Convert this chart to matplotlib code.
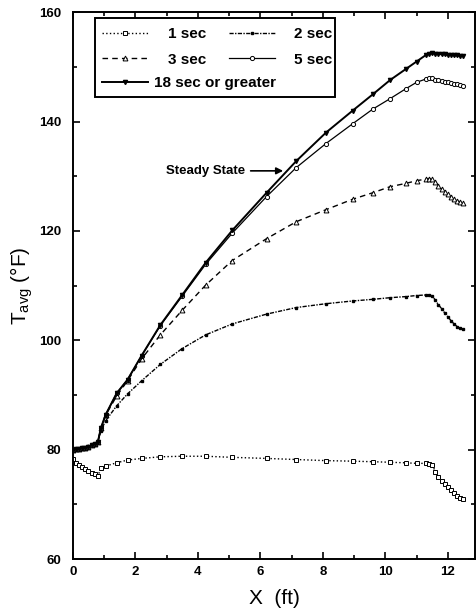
import numpy as np
import matplotlib
matplotlib.use("Agg")
from matplotlib import pyplot as plt
from matplotlib.ticker import MultipleLocator
from matplotlib.patches import Rectangle

plt.rcParams['font.family'] = ['Liberation Sans', 'DejaVu Sans']
plt.rcParams['mathtext.fontset'] = 'custom'
plt.rcParams['mathtext.rm'] = 'Liberation Sans'

# x positions (ft) shared by all series
x = [0, 0.1, 0.2, 0.3, 0.4, 0.5, 0.6, 0.7, 0.8, 0.9, 1.05, 1.4, 1.75, 2.2, 2.8,
     3.5, 4.25, 5.1, 6.2, 7.15, 8.1, 8.95, 9.6, 10.15, 10.65, 11.0, 11.3, 11.4,
     11.5, 11.6, 11.7, 11.8, 11.9, 12.0, 12.1, 12.2, 12.3, 12.4, 12.5]

t1 = [78.3, 77.6, 77.2, 76.8, 76.4, 76.1, 75.8, 75.5, 75.2, 76.6, 77.0, 77.6, 78.1,
      78.4, 78.7, 78.8, 78.8, 78.6, 78.4, 78.2, 78.0, 77.9, 77.8, 77.7, 77.6, 77.5,
      77.5, 77.4, 77.2, 76.0, 75.0, 74.3, 73.7, 73.2, 72.6, 72.0, 71.5, 71.2, 71.0]

t2 = [80.0, 80.1, 80.2, 80.3, 80.4, 80.6, 80.8, 81.1, 81.4, 83.5, 85.3, 88.0, 90.2,
      92.6, 95.6, 98.5, 101.0, 103.0, 104.8, 106.0, 106.7, 107.2, 107.5, 107.8, 108.0,
      108.2, 108.3, 108.3, 108.2, 107.3, 106.5, 105.8, 105.0, 104.3, 103.6, 103.0,
      102.5, 102.2, 102.0]

t3 = [80.0, 80.1, 80.2, 80.3, 80.4, 80.5, 80.8, 81.1, 81.4, 84.0, 86.3, 89.8, 92.6,
      96.6, 101.0, 105.5, 110.1, 114.6, 118.6, 121.7, 123.9, 125.8, 127.0, 128.1,
      128.7, 129.2, 129.5, 129.6, 129.5, 129.0, 128.3, 127.7, 127.2, 126.7, 126.2,
      125.8, 125.5, 125.3, 125.2]

t5 = [80.0, 80.1, 80.2, 80.3, 80.4, 80.5, 80.8, 81.1, 81.4, 84.0, 86.4, 90.3, 92.8,
      97.2, 102.7, 108.1, 113.9, 119.6, 126.3, 131.6, 136.0, 139.6, 142.3, 144.2,
      146.0, 147.2, 147.8, 148.0, 148.0, 147.7, 147.6, 147.4, 147.3, 147.2, 147.0,
      146.9, 146.8, 146.7, 146.6]

t18 = [80.0, 80.1, 80.2, 80.3, 80.4, 80.5, 80.8, 81.1, 81.4, 84.0, 86.4, 90.3, 92.8,
       97.2, 102.8, 108.3, 114.2, 120.1, 127.0, 132.8, 138.0, 142.0, 145.0, 147.6,
       149.6, 151.0, 152.2, 152.4, 152.5, 152.4, 152.4, 152.3, 152.3, 152.2, 152.2,
       152.1, 152.1, 152.0, 152.0]

labels = ["1 sec", "2 sec", "3 sec", "5 sec", "18 sec or greater"]

fig = plt.figure(figsize=(4.76, 6.15), dpi=100)
ax = fig.add_axes([0.153, 0.091, 0.845, 0.889])

l1, = ax.plot(x, t1, ls=':', lw=1, color='k', marker='s', ms=2.5, mfc='white', mew=0.7, label=labels[0])
l2, = ax.plot(x, t2, ls=(0, (3, 1, 1, 1)), lw=1, color='k', marker='s', ms=2, label=labels[1])
l3, = ax.plot(x, t3, ls=(0, (4, 3)), lw=1, color='k', marker='^', ms=3.5, mfc='white', mew=0.7, label=labels[2])
l5, = ax.plot(x, t5, ls='-', lw=0.9, color='k', marker='o', ms=3, mfc='white', mew=0.7, label=labels[3])
l18, = ax.plot(x, t18, ls='-', lw=1.4, color='k', marker='v', ms=3, label=labels[4])

ax.annotate("Steady State", xy=(6.73, 131), xytext=(2.98, 131),
            ha='left', va='center', fontsize=9.5, fontweight='bold',
            arrowprops=dict(arrowstyle='-|>', color='k', lw=1.2, shrinkA=2, shrinkB=0,
                            mutation_scale=10))

ax.set_xlim(0, 12.87)
ax.set_ylim(60, 160)
ax.xaxis.set_major_locator(MultipleLocator(2))
ax.xaxis.set_minor_locator(MultipleLocator(1))
ax.yaxis.set_major_locator(MultipleLocator(20))
ax.yaxis.set_minor_locator(MultipleLocator(10))
ax.tick_params(which='both', direction='in', top=True, right=True, width=1.2)
ax.tick_params(which='major', length=5, labelsize=9.5)
ax.tick_params(which='minor', length=3)
ax.tick_params(axis='y', pad=8)
ax.tick_params(axis='x', pad=5)
for lab in ax.get_xticklabels() + ax.get_yticklabels():
    lab.set_fontweight('bold')
for sp in ax.spines.values():
    sp.set_linewidth(1.4)

ax.set_xlabel("X  (ft)", fontsize=15, labelpad=8)
ax.set_ylabel(r"T$_{\rm avg}$ (°F)", fontsize=15, labelpad=3)

# legend: two rows of two, then a wide last row, inside one box
legprops = {'weight': 'bold', 'size': 11}
legA = ax.legend([l1, l3, l2, l5], [labels[0], labels[2], labels[1], labels[3]],
                 ncol=2, loc='upper left', bbox_to_anchor=(0.057, 0.984), borderaxespad=0,
                 frameon=False, handlelength=3.0, handletextpad=1.3,
                 columnspacing=1.5, labelspacing=0.75, prop=legprops)
ax.add_artist(legA)
legB = ax.legend([l18], [labels[4]], loc='upper left', bbox_to_anchor=(0.057, 0.894),
                 borderaxespad=0, frameon=False, handlelength=3.0, handletextpad=0.4,
                 prop=legprops)
ax.add_patch(Rectangle((0.055, 0.845), 0.597, 0.144, transform=ax.transAxes,
                       fill=True, facecolor='white', edgecolor='k', lw=1.4, zorder=4))
legA.set_zorder(5)
legB.set_zorder(5)

fig.savefig("out.png", dpi=100)
